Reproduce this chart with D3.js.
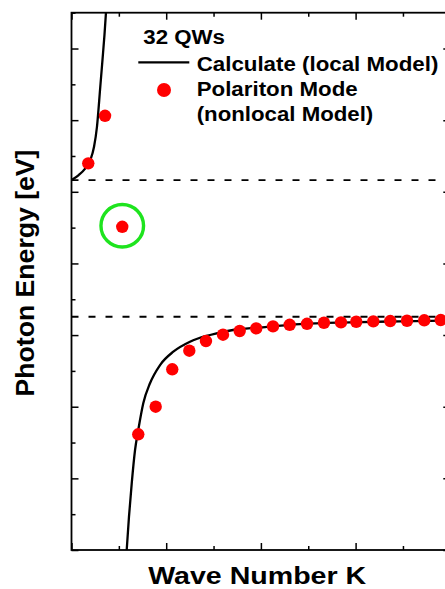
<!DOCTYPE html>
<html>
<head>
<meta charset="utf-8">
<script src="https://cdn.jsdelivr.net/npm/d3@7"></script>
<style>
  html, body { margin: 0; padding: 0; background: #fff; }
  svg { display: block; }
  text { font-family: "Liberation Sans", Arial, sans-serif; font-weight: bold; fill: #000; }
</style>
</head>
<body>
<svg id="chart" width="445" height="589"></svg>
<script>
// ---- data ----
const xDomain = [0, 4];
const yDomain = [0, 7.5];
const xMajorTicks = [0, 1, 2, 3, 4];
const xMinorTicks = [0.5, 1.5, 2.5, 3.5];
const yMajorTicks = [0, 1, 2, 3, 4, 5, 6, 7];
const yMinorTicks = [0.5, 1.5, 2.5, 3.5, 4.5, 5.5, 6.5, 7.5];

// dashed asymptotes
const asymptotes = [5.164, 3.256];

// calculated (local model) upper branch
const upperK = [0, 0.076, 0.146, 0.199, 0.238, 0.269, 0.304, 0.327, 0.348, 0.364];
const upperE = [5.164, 5.234, 5.327, 5.443, 5.629, 5.908, 6.466, 6.839, 7.188, 7.5];

// calculated (local model) lower branch
const lowerK = [0.583, 0.607, 0.636, 0.671, 0.705, 0.758, 0.829, 0.935, 1.075, 1.251, 1.463, 1.705, 1.990, 2.413, 2.941, 3.469, 3.997];
const lowerE = [0, 0.465, 0.931, 1.396, 1.675, 2.048, 2.327, 2.582, 2.768, 2.907, 3.001, 3.071, 3.105, 3.154, 3.178, 3.192, 3.203];

// polariton mode (nonlocal model) points
const polK = [0.177, 0.354, 0.536, 0.705, 0.889, 1.064, 1.244, 1.420, 1.600, 1.776, 1.951, 2.128, 2.304, 2.487, 2.666, 2.846, 3.007, 3.187, 3.366, 3.543, 3.725, 3.899];
const polE = [5.397, 6.061, 4.512, 1.615, 2.000, 2.522, 2.782, 2.917, 3.005, 3.057, 3.094, 3.122, 3.144, 3.158, 3.172, 3.178, 3.186, 3.192, 3.196, 3.200, 3.206, 3.210];

// highlighted point (green circle)
const highlightIndex = 2;

const legendTitle = "32 QWs";
const legendLine = "Calculate (local Model)";
const legendDot1 = "Polariton Mode";
const legendDot2 = "(nonlocal Model)";
const xTitle = "Wave Number K";
const yTitle = "Photon Energy [eV]";

// ---- drawing ----
const svg = d3.select("#chart");
const pL = 71.5, pR = 450.3, pT = 12.7, pB = 550;

const x = d3.scaleLinear().domain(xDomain).range([pL, pR]);
const y = d3.scaleLinear().domain(yDomain).range([pB, pT]);

svg.append("defs").append("clipPath").attr("id", "plotclip")
  .append("rect").attr("x", pL).attr("y", pT).attr("width", pR - pL).attr("height", pB - pT);

const plot = svg.append("g").attr("clip-path", "url(#plotclip)");

// dashed lines
plot.selectAll("line.asym").data(asymptotes).join("line")
  .attr("class", "asym")
  .attr("x1", x(xDomain[0])).attr("x2", x(xDomain[1]))
  .attr("y1", d => y(d)).attr("y2", d => y(d))
  .attr("stroke", "#000").attr("stroke-width", 1.8)
  .attr("stroke-dasharray", "7,10");

const line = d3.line().x(d => x(d[0])).y(d => y(d[1])).curve(d3.curveMonotoneX);
const upper = upperK.map((k, i) => [k, upperE[i]]);
const lower = lowerK.map((k, i) => [k, lowerE[i]]);
[upper, lower].forEach(pts => {
  plot.append("path").attr("d", line(pts))
    .attr("fill", "none").attr("stroke", "#000").attr("stroke-width", 2.3);
});

const pol = polK.map((k, i) => [k, polE[i]]);
plot.selectAll("circle.pol").data(pol).join("circle")
  .attr("class", "pol")
  .attr("cx", d => x(d[0])).attr("cy", d => y(d[1])).attr("r", 6.2)
  .attr("fill", "#ff0000");

// green circle annotation
const hp = pol[highlightIndex];
svg.append("circle")
  .attr("cx", x(hp[0])).attr("cy", y(hp[1]) - 1)
  .attr("r", 21.3)
  .attr("fill", "none").attr("stroke", "#1ee41e").attr("stroke-width", 3.4);

// axes (ticks inward, no labels)
function drawAxis(gen, transform, ticks, size) {
  const g = svg.append("g").attr("transform", transform)
    .call(gen.tickValues(ticks).tickSize(size).tickFormat(""));
  g.selectAll(".tick line").attr("stroke", "#000").attr("stroke-width", 1.5);
  g.select(".domain").remove();
  return g;
}
drawAxis(d3.axisLeft(y), `translate(${pL},0)`, yMajorTicks, -7);
drawAxis(d3.axisLeft(y), `translate(${pL},0)`, yMinorTicks, -4);
drawAxis(d3.axisRight(y), `translate(${pR},0)`, yMajorTicks, -7);
drawAxis(d3.axisRight(y), `translate(${pR},0)`, yMinorTicks, -4);
drawAxis(d3.axisBottom(x), `translate(0,${pB})`, xMajorTicks, -7);
drawAxis(d3.axisBottom(x), `translate(0,${pB})`, xMinorTicks, -4);
drawAxis(d3.axisTop(x), `translate(0,${pT})`, xMajorTicks, -7);
drawAxis(d3.axisTop(x), `translate(0,${pT})`, xMinorTicks, -4);

// frame
svg.append("rect").attr("x", pL).attr("y", pT)
  .attr("width", pR - pL).attr("height", pB - pT)
  .attr("fill", "none").attr("stroke", "#000").attr("stroke-width", 1.8);

// legend
const lg = svg.append("g");
lg.append("text").attr("x", 143.3).attr("y", 44).attr("font-size", 20)
  .attr("textLength", 81.7).attr("lengthAdjust", "spacingAndGlyphs").text(legendTitle);
lg.append("line").attr("x1", 138.3).attr("x2", 189.3).attr("y1", 62.3).attr("y2", 62.3)
  .attr("stroke", "#000").attr("stroke-width", 2.3);
lg.append("text").attr("x", 196.7).attr("y", 70.7).attr("font-size", 20)
  .attr("textLength", 241.7).attr("lengthAdjust", "spacingAndGlyphs").text(legendLine);
lg.append("circle").attr("cx", 164).attr("cy", 90).attr("r", 7).attr("fill", "#ff0000");
lg.append("text").attr("x", 196.7).attr("y", 96).attr("font-size", 20)
  .attr("textLength", 161).attr("lengthAdjust", "spacingAndGlyphs").text(legendDot1);
lg.append("text").attr("x", 196.7).attr("y", 120.5).attr("font-size", 20)
  .attr("textLength", 176.6).attr("lengthAdjust", "spacingAndGlyphs").text(legendDot2);

// axis titles
svg.append("text").attr("x", 257.2).attr("y", 583.5).attr("font-size", 24)
  .attr("text-anchor", "middle")
  .attr("textLength", 218).attr("lengthAdjust", "spacingAndGlyphs").text(xTitle);
svg.append("text").attr("transform", "translate(33.5,273) rotate(-90)")
  .attr("font-size", 26).attr("text-anchor", "middle")
  .attr("textLength", 247).attr("lengthAdjust", "spacingAndGlyphs").text(yTitle);
</script>
</body>
</html>
